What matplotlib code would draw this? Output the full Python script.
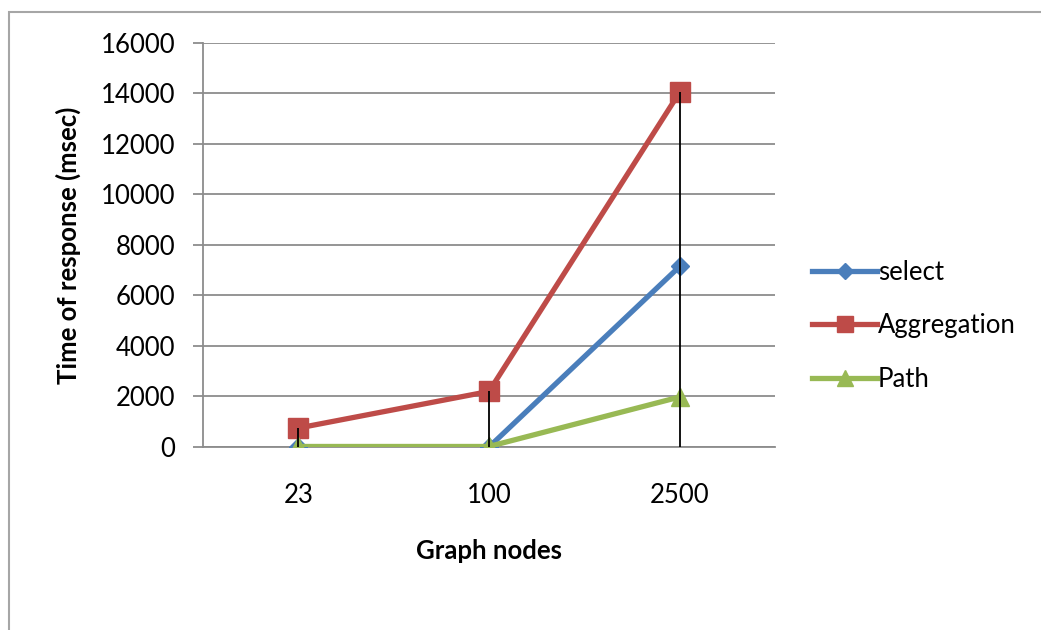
import matplotlib.pyplot as plt
from matplotlib.patches import Rectangle
import numpy as np

plt.rcParams['font.family'] = ['Lato', 'DejaVu Sans']

nodes = ['23', '100', '2500']
select = [0, 0, 7150]
aggregation = [750, 2200, 14050]
path = [20, 20, 1980]

x = np.arange(len(nodes))

fig = plt.figure(figsize=(10.41, 6.30), dpi=100)
ax = fig.add_axes([0.195, 0.2905, 0.5495, 0.6413])

# outer chart border
fig.patches.append(Rectangle((9 / 1041, -0.1), 1.2, 1 - 12 / 630 + 0.1,
                             transform=fig.transFigure, fill=False,
                             edgecolor='#a6a6a6', linewidth=1.5))

ax.plot(x, select, color='#4a7ebb', linewidth=3.8, marker='D', markersize=9,
        label='select', zorder=3)
ax.plot(x, aggregation, color='#be4b48', linewidth=3.8, marker='s', markersize=14,
        label='Aggregation', zorder=3)
ax.plot(x, path, color='#98b954', linewidth=3.8, marker='^', markersize=13,
        label='Path', zorder=3)

# drop lines
tops = np.max([select, aggregation, path], axis=0)
ax.vlines(x, 0, tops, color='black', linewidth=1.3, zorder=4)

ax.set_xlim(-0.5, 2.5)
ax.set_ylim(0, 16000)
ax.set_yticks(np.arange(0, 16001, 2000))
ax.set_xticks(x)
ax.set_xticklabels(nodes)
ax.yaxis.grid(True, color='#8c8c8c', linewidth=1.3)
ax.set_axisbelow(True)

for s in ['top', 'right']:
    ax.spines[s].set_visible(False)
for s in ['left', 'bottom']:
    ax.spines[s].set_color('#8c8c8c')
    ax.spines[s].set_linewidth(1.3)

ax.tick_params(axis='y', length=7, width=1.3, color='#8c8c8c', pad=13, labelsize=18.5)
ax.tick_params(axis='x', length=0, pad=26, labelsize=18.5)

ax.set_ylabel('Time of response (msec)', fontsize=18.5, fontweight='bold', labelpad=14)
ax.set_xlabel('Graph nodes', fontsize=18.5, fontweight='bold', labelpad=22)

ax.legend(loc='center left', bbox_to_anchor=(1.025, 0.3), frameon=False,
          fontsize=18.5, handlelength=2.5, handletextpad=0.05, labelspacing=1.1,
          markerscale=0.85)

fig.savefig('out.png', dpi=100)
